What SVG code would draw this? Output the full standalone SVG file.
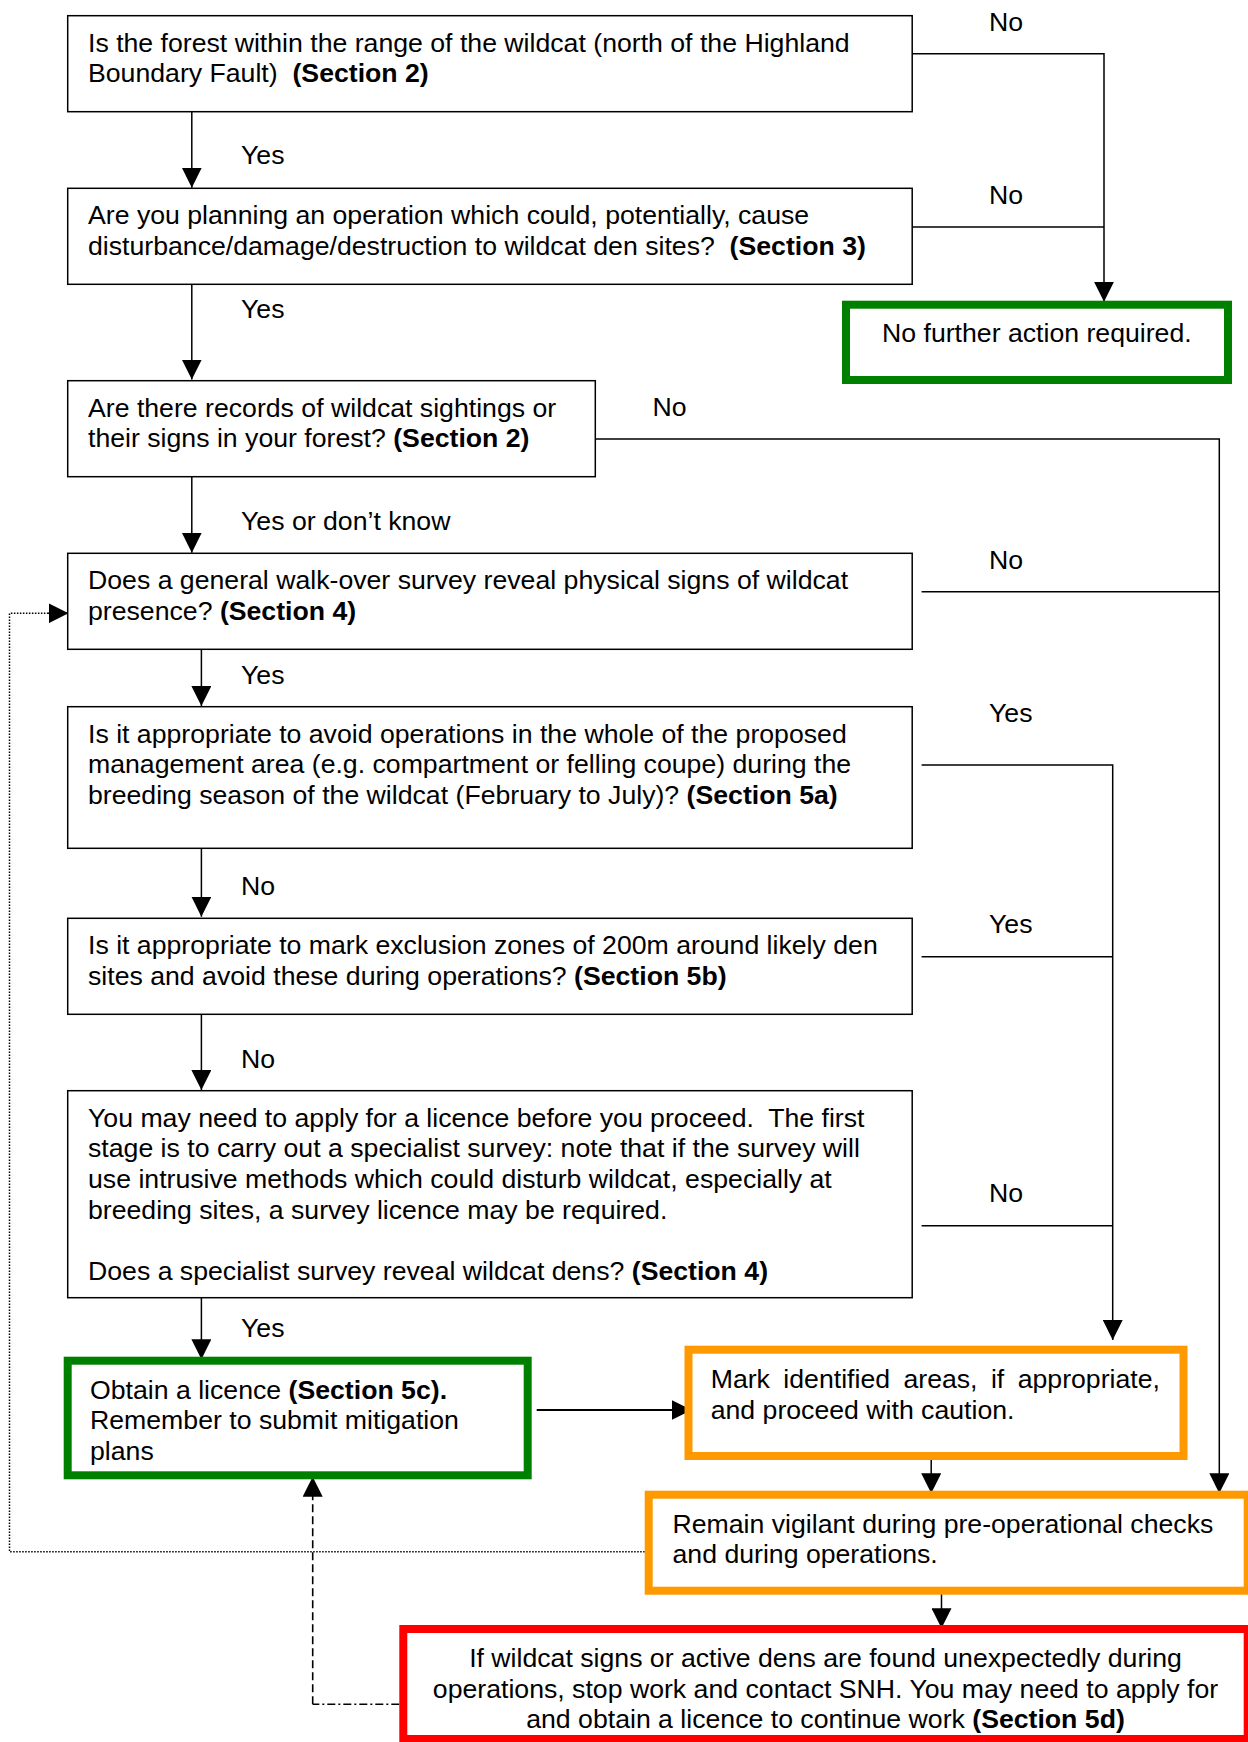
<svg xmlns="http://www.w3.org/2000/svg" width="1248" height="1742" viewBox="0 0 1248 1742">
<style>
text{font-family:"Liberation Sans",Arial,sans-serif;font-size:26.67px;fill:#000;white-space:pre}
.b{font-weight:bold}
.box{fill:#fff;stroke:#000;stroke-width:1.5}
.g{fill:#fff;stroke:#008000;stroke-width:8}
.o{fill:#fff;stroke:#FF9900;stroke-width:8}
.r{fill:#fff;stroke:#FF0000;stroke-width:8}
.c{fill:none;stroke:#000;stroke-width:1.5}
.a{marker-end:url(#arr)}
.dot{fill:none;stroke:#000;stroke-width:1.5;stroke-dasharray:1.5 1.5}
.dash{fill:none;stroke:#000;stroke-width:1.6;stroke-dasharray:8 4}
.dashdot{fill:none;stroke:#000;stroke-width:1.6;stroke-dasharray:8 3 2 3}
</style>
<defs>
<marker id="arr" markerUnits="userSpaceOnUse" viewBox="0 0 20 20" refX="20" refY="10" markerWidth="20" markerHeight="20" orient="auto">
<path d="M0,0 L20,10 L0,20 Z" fill="#000"/>
</marker>
</defs>
<rect width="1248" height="1742" fill="#fff"/>

<g id="connectors">
<polyline class="c a" points="912,53.7 1104,53.7 1104,301.7"/>
<line class="c" x1="912" y1="227" x2="1104" y2="227"/>
<line class="c a" x1="191.8" y1="111.7" x2="191.8" y2="187.7"/>
<line class="c a" x1="191.8" y1="284.3" x2="191.8" y2="379.5"/>
<polyline class="c a" points="595.3,439 1219.3,439 1219.3,1493.3"/>
<line class="c a" x1="191.8" y1="476.7" x2="191.8" y2="552.7"/>
<line class="c" x1="921.6" y1="591.7" x2="1219.3" y2="591.7"/>
<line class="c a" x1="201.4" y1="649.3" x2="201.4" y2="706"/>
<polyline class="c a" points="921.6,765 1112.7,765 1112.7,1340"/>
<line class="c a" x1="201.4" y1="841.7" x2="201.4" y2="916.7"/>
<line class="c" x1="921.6" y1="956.7" x2="1112.7" y2="956.7"/>
<line class="c a" x1="201.4" y1="1014.3" x2="201.4" y2="1090"/>
<line class="c" x1="921.6" y1="1225.7" x2="1112.7" y2="1225.7"/>
<line class="c a" x1="201.4" y1="1297.7" x2="201.4" y2="1359.3"/>
<line class="c a" x1="536.7" y1="1410" x2="691.7" y2="1410" style="stroke-width:2"/>
<line class="c a" x1="931.2" y1="1455" x2="931.2" y2="1493.3"/>
<line class="c a" x1="941.5" y1="1590" x2="941.5" y2="1628.3"/>
<polyline class="dot" points="644.7,1551.7 9.5,1551.7 9.5,613.3 50,613.3"/>
<line class="c a" x1="48" y1="613.3" x2="68.5" y2="613.3"/>
<line class="dashdot" x1="399.3" y1="1704.3" x2="312.7" y2="1704.3"/>
<line class="dash" x1="312.7" y1="1704.3" x2="312.7" y2="1490"/>
<line class="c a" x1="312.7" y1="1492" x2="312.7" y2="1476.7"/>
</g>

<g id="labels">
<text x="989" y="31">No</text>
<text x="241" y="164.3">Yes</text>
<text x="989" y="204">No</text>
<text x="241" y="318.3">Yes</text>
<text x="652.6" y="415.7">No</text>
<text x="241" y="530">Yes or don’t know</text>
<text x="989" y="569.3">No</text>
<text x="241" y="684">Yes</text>
<text x="989" y="721.7">Yes</text>
<text x="241" y="895">No</text>
<text x="989" y="933.3">Yes</text>
<text x="241" y="1068.3">No</text>
<text x="989" y="1201.7">No</text>
<text x="241" y="1336.7">Yes</text>
</g>

<g id="q1">
<rect class="box" x="67.7" y="15.7" width="844.5" height="96"/>
<text x="88" y="51.7">Is the forest within the range of the wildcat (north of the Highland</text>
<text x="88" y="82.4">Boundary Fault)  <tspan class="b">(Section 2)</tspan></text>
</g>

<g id="q2">
<rect class="box" x="67.7" y="188.3" width="844.5" height="96"/>
<text x="88" y="224">Are you planning an operation which could, potentially, cause</text>
<text x="88" y="254.7">disturbance/damage/destruction to wildcat den sites?  <tspan class="b">(Section 3)</tspan></text>
</g>

<g id="end-no-action">
<rect class="g" x="846" y="304.7" width="382" height="75.3"/>
<text x="882" y="341.7">No further action required.</text>
</g>

<g id="q3">
<rect class="box" x="67.7" y="380.7" width="527.6" height="96"/>
<text x="88" y="416.7">Are there records of wildcat sightings or</text>
<text x="88" y="447.4">their signs in your forest? <tspan class="b">(Section 2)</tspan></text>
</g>

<g id="q4">
<rect class="box" x="67.7" y="553.3" width="844.5" height="96"/>
<text x="88" y="589.3">Does a general walk-over survey reveal physical signs of wildcat</text>
<text x="88" y="620">presence? <tspan class="b">(Section 4)</tspan></text>
</g>

<g id="q5">
<rect class="box" x="67.7" y="706.7" width="844.5" height="141.6"/>
<text x="88" y="742.7">Is it appropriate to avoid operations in the whole of the proposed</text>
<text x="88" y="773.4">management area (e.g. compartment or felling coupe) during the</text>
<text x="88" y="804.1">breeding season of the wildcat (February to July)? <tspan class="b">(Section 5a)</tspan></text>
</g>

<g id="q6">
<rect class="box" x="67.7" y="918.3" width="844.5" height="96"/>
<text x="88" y="954.3">Is it appropriate to mark exclusion zones of 200m around likely den</text>
<text x="88" y="985">sites and avoid these during operations? <tspan class="b">(Section 5b)</tspan></text>
</g>

<g id="q7">
<rect class="box" x="67.7" y="1090.7" width="844.5" height="207"/>
<text x="88" y="1126.7">You may need to apply for a licence before you proceed.  The first</text>
<text x="88" y="1157.4">stage is to carry out a specialist survey: note that if the survey will</text>
<text x="88" y="1188.1">use intrusive methods which could disturb wildcat, especially at</text>
<text x="88" y="1218.8">breeding sites, a survey licence may be required.</text>
<text x="88" y="1280.2">Does a specialist survey reveal wildcat dens? <tspan class="b">(Section 4)</tspan></text>
</g>

<g id="obtain-licence">
<rect class="g" x="67.7" y="1360.7" width="460" height="114.6"/>
<text x="90" y="1398.7">Obtain a licence <tspan class="b">(Section 5c).</tspan></text>
<text x="90" y="1429.4">Remember to submit mitigation</text>
<text x="90" y="1460">plans</text>
</g>

<g id="mark-areas">
<rect class="o" x="688.5" y="1349.7" width="495" height="106.3"/>
<text x="710.7" y="1388.3" word-spacing="6">Mark identified areas, if appropriate,</text>
<text x="710.7" y="1418.9">and proceed with caution.</text>
</g>

<g id="remain-vigilant">
<rect class="o" x="648.7" y="1494.7" width="599" height="96"/>
<text x="672.5" y="1533.3">Remain vigilant during pre-operational checks</text>
<text x="672.5" y="1563.3">and during operations.</text>
</g>

<g id="unexpected">
<rect class="r" x="403.3" y="1629" width="844.4" height="110"/>
<text x="825.5" y="1667" text-anchor="middle">If wildcat signs or active dens are found unexpectedly during</text>
<text x="825.5" y="1697.5" text-anchor="middle">operations, stop work and contact SNH. You may need to apply for</text>
<text x="825.5" y="1728" text-anchor="middle">and obtain a licence to continue work <tspan class="b">(Section 5d)</tspan></text>
</g>
</svg>
